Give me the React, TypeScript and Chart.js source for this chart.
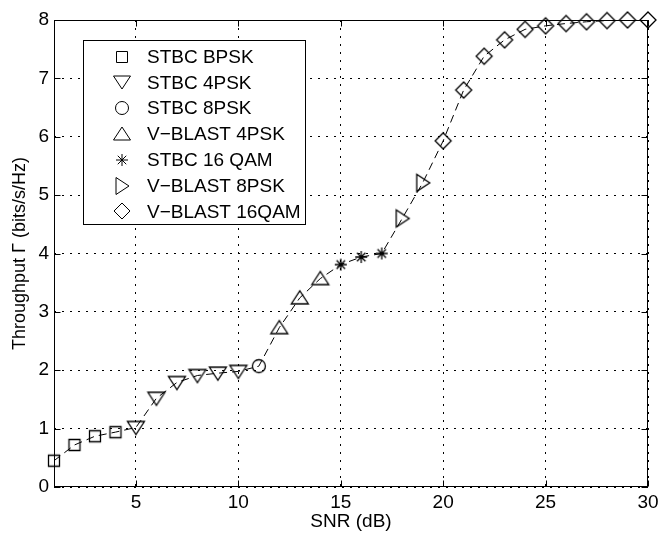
import React, { useEffect, useRef } from 'react';
import { Chart, registerables } from 'chart.js';

Chart.register(...registerables);

// ---- data ----
const stbcBpskSnr = [1, 2, 3, 4];
const stbcBpskThr = [0.45, 0.72, 0.87, 0.94];
const stbc4pskSnr = [5, 6, 7, 8, 9, 10];
const stbc4pskThr = [1.02, 1.52, 1.79, 1.91, 1.95, 1.98];
const stbc8pskSnr = [11];
const stbc8pskThr = [2.07];
const vblast4pskSnr = [12, 13, 14];
const vblast4pskThr = [2.73, 3.24, 3.57];
const stbc16qamSnr = [15, 16, 17];
const stbc16qamThr = [3.81, 3.94, 4.0];
const vblast8pskSnr = [18, 19];
const vblast8pskThr = [4.6, 5.21];
const vblast16qamSnr = [20, 21, 22, 23, 24, 25, 26, 27, 28, 29, 30];
const vblast16qamThr = [5.93, 6.8, 7.38, 7.66, 7.84, 7.9, 7.94, 7.97, 7.99, 8.0, 8.0];

const seriesLabels = [
  'STBC BPSK',
  'STBC 4PSK',
  'STBC 8PSK',
  'V\u2212BLAST 4PSK',
  'STBC 16 QAM',
  'V\u2212BLAST 8PSK',
  'V\u2212BLAST 16QAM',
];
const seriesMarkers = ['square', 'tridown', 'circle', 'triup', 'star', 'triright', 'diamond'];
const seriesSnr = [stbcBpskSnr, stbc4pskSnr, stbc8pskSnr, vblast4pskSnr, stbc16qamSnr, vblast8pskSnr, vblast16qamSnr];
const seriesThr = [stbcBpskThr, stbc4pskThr, stbc8pskThr, vblast4pskThr, stbc16qamThr, vblast8pskThr, vblast16qamThr];

const xTicks = [5, 10, 15, 20, 25, 30];
const yTicks = [0, 1, 2, 3, 4, 5, 6, 7, 8];

const FONT = "'Liberation Sans', Arial, Helvetica, sans-serif";
const FS = 19;

function makeMarker(kind: string, lw: number): HTMLCanvasElement {
  const S = 22;
  const c = document.createElement('canvas');
  c.width = S;
  c.height = S;
  const g = c.getContext('2d')!;
  g.strokeStyle = '#000';
  g.lineWidth = lw;
  const m = S / 2;
  g.beginPath();
  switch (kind) {
    case 'square':
      g.rect(m - 5.5, m - 5.5, 11, 11);
      break;
    case 'tridown':
      g.moveTo(m - 8.5, m - 6);
      g.lineTo(m + 8.5, m - 6);
      g.lineTo(m, m + 7);
      g.closePath();
      break;
    case 'triup':
      g.moveTo(m - 8.5, m + 6);
      g.lineTo(m + 8.5, m + 6);
      g.lineTo(m, m - 7);
      g.closePath();
      break;
    case 'triright':
      g.moveTo(m - 6, m - 8.5);
      g.lineTo(m - 6, m + 8.5);
      g.lineTo(m + 7, m);
      g.closePath();
      break;
    case 'circle':
      g.arc(m, m, 6.5, 0, Math.PI * 2);
      break;
    case 'star': {
      const r = 6;
      const d = r * Math.SQRT1_2;
      g.moveTo(m, m - r);
      g.lineTo(m, m + r);
      g.moveTo(m - r, m);
      g.lineTo(m + r, m);
      g.moveTo(m - d, m - d);
      g.lineTo(m + d, m + d);
      g.moveTo(m - d, m + d);
      g.lineTo(m + d, m - d);
      break;
    }
    case 'diamond':
      g.moveTo(m, m - 8);
      g.lineTo(m + 8, m);
      g.lineTo(m, m + 8);
      g.lineTo(m - 8, m);
      g.closePath();
      break;
  }
  g.stroke();
  return c;
}

export default function App() {
  const ref = useRef<HTMLCanvasElement | null>(null);

  useEffect(() => {
    if (!ref.current) return;
    const markers = seriesMarkers.map((k) => makeMarker(k, 1.3));
    const legendMarkers = seriesMarkers.map((k) => makeMarker(k, 1));

    const allPoints: { x: number; y: number }[] = [];
    seriesSnr.forEach((xs, i) => xs.forEach((x, j) => allPoints.push({ x, y: seriesThr[i][j] })));

    const datasets: any[] = [
      {
        label: 'line',
        data: allPoints,
        showLine: true,
        borderColor: '#000',
        borderWidth: 1,
        borderDash: [8, 5],
        pointRadius: 0,
        fill: false,
        order: 10,
      },
    ];
    seriesLabels.forEach((lab, i) => {
      datasets.push({
        label: lab,
        data: seriesSnr[i].map((x, j) => ({ x, y: seriesThr[i][j] })),
        showLine: false,
        pointStyle: markers[i],
        pointRadius: 8,
        borderColor: '#000',
        backgroundColor: 'rgba(0,0,0,0)',
        clip: false,
        order: 1,
      });
    });

    const framePlugin = {
      id: 'frame',
      beforeDatasetsDraw(chart: any) {
        const { ctx, chartArea } = chart;
        const xs = chart.scales.x;
        const ys = chart.scales.y;
        const L = Math.round(chartArea.left) + 0.5;
        const R = Math.round(chartArea.right) - 0.5;
        const T = Math.round(chartArea.top) + 0.5;
        const B = Math.round(chartArea.bottom) - 0.5;
        ctx.save();
        ctx.strokeStyle = '#000';
        ctx.lineWidth = 1;
        ctx.setLineDash([]);
        ctx.strokeRect(L, T, R - L, B - T);
        const tl = 6;
        ctx.beginPath();
        xTicks.forEach((v) => {
          const px = Math.round(xs.getPixelForValue(v)) + 0.5;
          ctx.moveTo(px, B);
          ctx.lineTo(px, B - tl);
          ctx.moveTo(px, T);
          ctx.lineTo(px, T + tl);
        });
        yTicks.forEach((v) => {
          const py = Math.round(ys.getPixelForValue(v)) + 0.5;
          ctx.moveTo(L, py);
          ctx.lineTo(L + tl, py);
          ctx.moveTo(R, py);
          ctx.lineTo(R - tl, py);
        });
        ctx.stroke();
        ctx.restore();
      },
      afterDraw(chart: any) {
        const { ctx } = chart;
        ctx.save();
        ctx.strokeStyle = '#000';
        ctx.lineWidth = 1;
        ctx.setLineDash([]);
        const bx = 83.5, by = 40.5, bw = 222, bh = 184;
        ctx.fillStyle = '#fff';
        ctx.fillRect(bx, by, bw, bh);
        ctx.strokeRect(bx, by, bw, bh);
        ctx.fillStyle = '#000';
        ctx.font = `${FS}px ${FONT}`;
        ctx.textBaseline = 'middle';
        ctx.textAlign = 'left';
        seriesLabels.forEach((lab, i) => {
          const cy = 56.5 + i * 25.8;
          const mk = legendMarkers[i];
          ctx.drawImage(mk, Math.round(122 - mk.width / 2), Math.round(cy - mk.height / 2));
          ctx.fillText(lab, 147, cy + 1);
        });
        ctx.restore();
      },
    };

    const chart = new Chart(ref.current, {
      type: 'scatter',
      data: { datasets },
      options: {
        animation: false,
        responsive: true,
        maintainAspectRatio: false,
        layout: { padding: { top: 20, right: 11, left: 0, bottom: 0 } },
        plugins: { legend: { display: false }, tooltip: { enabled: false } },
        scales: {
          x: {
            type: 'linear',
            min: 1,
            max: 30,
            afterBuildTicks: (s: any) => {
              s.ticks = xTicks.map((v) => ({ value: v }));
            },
            afterFit: (s: any) => {
              s.height = 46;
              s.paddingLeft = 0;
              s.paddingRight = 0;
            },
            grid: { color: '#000', lineWidth: 1, drawTicks: false },
            border: { display: false, dash: [2, 6] },
            ticks: { color: '#000', font: { family: FONT, size: FS }, padding: 4, maxRotation: 0 },
            title: {
              display: true,
              text: 'SNR (dB)',
              color: '#000',
              font: { family: FONT, size: FS },
              padding: { top: 0, bottom: 0 },
            },
          },
          y: {
            type: 'linear',
            min: 0,
            max: 8,
            afterBuildTicks: (s: any) => {
              s.ticks = yTicks.map((v) => ({ value: v }));
            },
            afterFit: (s: any) => {
              s.width = 54;
              s.paddingTop = 0;
              s.paddingBottom = 0;
            },
            grid: { color: '#000', lineWidth: 1, drawTicks: false },
            border: { display: false, dash: [2, 6] },
            ticks: { color: '#000', font: { family: FONT, size: FS }, padding: 5 },
            title: {
              display: true,
              text: 'Throughput \u0393 (bits/s/Hz)',
              color: '#000',
              font: { family: FONT, size: FS - 1 },
              padding: { top: 9, bottom: 0 },
            },
          },
        },
      },
      plugins: [framePlugin],
    });
    return () => chart.destroy();
  }, []);

  return (
    <div style={{ position: 'fixed', left: 0, top: 0, width: 659, height: 533, background: '#fff' }}>
      <canvas ref={ref} />
    </div>
  );
}
